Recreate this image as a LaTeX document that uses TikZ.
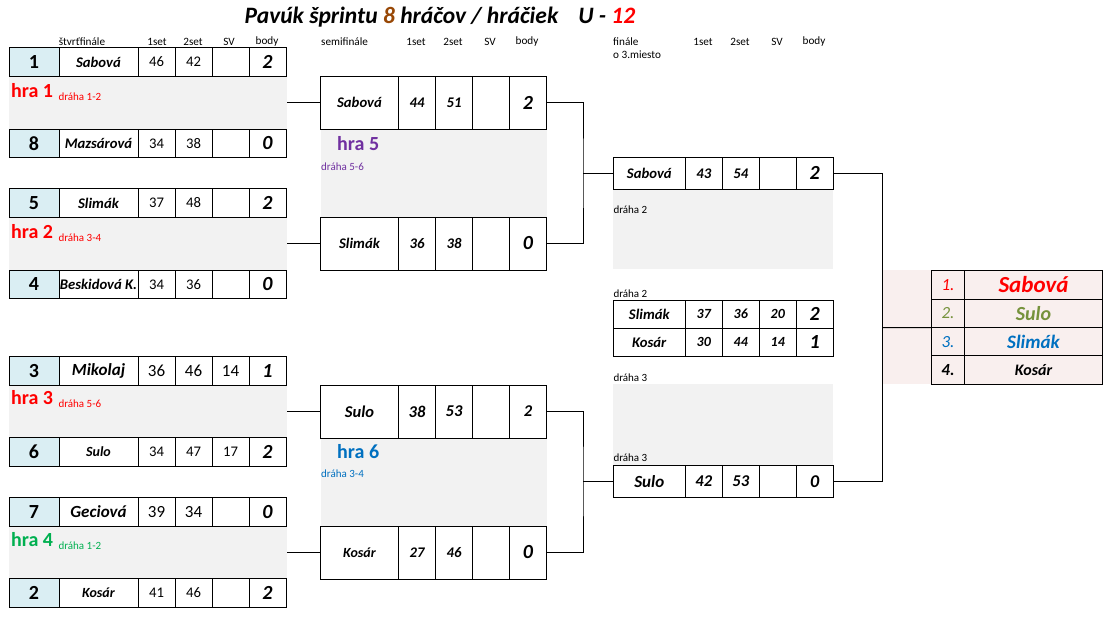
\documentclass[tikz,border=0pt]{standalone}
\usepackage{fontspec}
\setmainfont{Carlito}
\usetikzlibrary{positioning}
\definecolor{seedblue}{HTML}{DAEEF3}
\definecolor{bandgray}{HTML}{F2F2F2}
\definecolor{rankpink}{HTML}{F9EFEE}
\definecolor{hrared}{HTML}{FF0000}
\definecolor{hragreen}{HTML}{00B050}
\definecolor{hrapurple}{HTML}{7030A0}
\definecolor{hrablue}{HTML}{0070C0}
\definecolor{rankolive}{HTML}{76923C}
\definecolor{titlebrown}{HTML}{984806}
\newcommand{\fsz}[1]{\fontsize{#1}{#1}\selectfont}
\newcommand{\bi}{\bfseries\itshape}
\newcommand{\bignum}{\fsz{20}\bfseries\itshape}
% one score row: name, anchor point, row style, name width, player, set1, set2, sv, points
\newcommand{\scorerow}[9]{%
  \node[tcell, #3, minimum width=#4] (#1-name) at #2 {#5};
  \node[tcell, #3] (#1-s1) at (#1-name.east) {#6};
  \node[tcell, #3] (#1-s2) at (#1-s1.east) {#7};
  \node[tcell, #3] (#1-sv) at (#1-s2.east) {#8};
  \node[tcell, #3] (#1-pts) at (#1-sv.east) {#9};}

\begin{document}
\begin{tikzpicture}[x=1pt, y=-1pt,
    tcell/.style={rectangle, draw, line width=1pt, inner sep=0pt, outer sep=0pt,
      anchor=west, minimum width=37, font=\fsz{14.7}},
    qfcell/.style={minimum height=28.5},
    sfcell/.style={minimum height=53},
    fcell/.style={minimum height=32},
    tpcell/.style={minimum height=28.3},
    seedcell/.style={tcell, qfcell, fill=seedblue, minimum width=50, font=\fsz{20}\bfseries},
    band/.style={rectangle, fill=bandgray, inner sep=0pt, outer sep=0pt, anchor=north west},
    hdr/.style={font=\fsz{11.2}, inner sep=0pt},
    hra/.style={font=\fsz{20}\bfseries, inner sep=0pt, anchor=west},
    lane/.style={font=\fsz{11}, inner sep=0pt, anchor=west},
    rknum/.style={tcell, fill=rankpink, minimum height=28.4, minimum width=32.6,
      anchor=north west, font=\fsz{17}\itshape},
    rkname/.style={tcell, fill=rankpink, minimum height=28.4, minimum width=138.4},
    conn/.style={line width=1pt}]

\useasboundingbox (0,0) rectangle (1119,621);

% Title
\node[font=\fsz{23.5}\bi, inner sep=0pt] (title) at (440,17)
  {Pavúk šprintu \textcolor{titlebrown}{8} hráčov / hráčiek\hspace{20pt}U - \textcolor{hrared}{12}};

% Column headers
\node[hdr] (hq) at (82,41.7) {štvrťfinále};
\foreach \cx/\txt in {157/1set, 193/2set, 229/SV, 267/body,
                      416/1set, 453/2set, 490/SV, 527/body,
                      703/1set, 740/2set, 777/SV, 814/body}
  \node[hdr] at (\cx,41.7) {\txt};
\node[hdr, anchor=west] (hs) at (321,41.7) {semifinále};
\node[hdr, anchor=west] (hf) at (613,41.7) {finále};
\node[hdr, anchor=west] (h3) at (613,55) {o 3.miesto};

% Quarterfinal bands
\node[band, minimum width=278, minimum height=53] (qf1-band) at (9,76) {};
\node[band, minimum width=278, minimum height=53] (qf2-band) at (9,217) {};
\node[band, minimum width=278, minimum height=53] (qf3-band) at (9,385) {};
\node[band, minimum width=278, minimum height=53] (qf4-band) at (9,526) {};

% Quarterfinals
\node[seedcell] (qf1a-seed) at (9,62) {1};
\scorerow{qf1a}{(qf1a-seed.east)}{qfcell}{79}{\bi Sabová}{46}{42}{}{\bignum 2}
\node[seedcell] (qf1b-seed) at (9,143.5) {8};
\scorerow{qf1b}{(qf1b-seed.east)}{qfcell}{79}{\bi Mazsárová}{34}{38}{}{\bignum 0}
\node[seedcell] (qf2a-seed) at (9,203) {5};
\scorerow{qf2a}{(qf2a-seed.east)}{qfcell}{79}{\bi Slimák}{37}{48}{}{\bignum 2}
\node[seedcell] (qf2b-seed) at (9,284.5) {4};
\scorerow{qf2b}{(qf2b-seed.east)}{qfcell}{79}{\bi Beskidová K.}{34}{36}{}{\bignum 0}
\node[seedcell] (qf3a-seed) at (9,371) {3};
\scorerow{qf3a}{(qf3a-seed.east)}{qfcell}{79}{\fsz{17}\bi Mikolaj}{\fsz{17}36}{\fsz{17}46}{\fsz{17}14}{\bignum 1}
\node[seedcell] (qf3b-seed) at (9,452) {6};
\scorerow{qf3b}{(qf3b-seed.east)}{qfcell}{79}{\fsz{14}\bi Sulo}{34}{47}{17}{\bignum 2}
\node[seedcell] (qf4a-seed) at (9,512) {7};
\scorerow{qf4a}{(qf4a-seed.east)}{qfcell}{79}{\fsz{17}\bi Geciová}{\fsz{17}39}{\fsz{17}34}{}{\bignum 0}
\node[seedcell] (qf4b-seed) at (9,593) {2};
\scorerow{qf4b}{(qf4b-seed.east)}{qfcell}{79}{\fsz{14}\bi Kosár}{41}{46}{}{\bignum 2}

% Game labels
\node[hra, hrared] (hra1) at (11,91) {hra 1};
\node[lane, hrared, anchor=base west] (lane1) at ([xshift=5pt,yshift=-3pt]hra1.base east) {dráha 1-2};
\node[hra, hrared] (hra2) at (11,232) {hra 2};
\node[lane, hrared, anchor=base west] (lane2) at ([xshift=5pt,yshift=-3pt]hra2.base east) {dráha 3-4};
\node[hra, hrared] (hra3) at (11,398) {hra 3};
\node[lane, hrared, anchor=base west] (lane3) at ([xshift=5pt,yshift=-3pt]hra3.base east) {dráha 5-6};
\node[hra, hragreen] (hra4) at (11,540) {hra 4};
\node[lane, hragreen, anchor=base west] (lane4) at ([xshift=5pt,yshift=-3pt]hra4.base east) {dráha 1-2};

% Semifinal bands
\node[band, minimum width=226, minimum height=88] (sf1-band) at (320.5,129) {};
\node[band, minimum width=226, minimum height=88] (sf2-band) at (320.5,438) {};

% Semifinals
\scorerow{sf1a}{(320.5,102.5)}{sfcell}{78}{\bi Sabová}{\bi 44}{\bi 51}{}{\bignum 2}
\scorerow{sf1b}{(320.5,243.5)}{sfcell}{78}{\bi Slimák}{\bi 36}{\bi 38}{}{\bignum 0}
\scorerow{sf2a}{(320.5,411.5)}{sfcell}{78}{\fsz{16.5}\bi Sulo}{\fsz{16.5}\bi 38}{\fsz{16.5}\bi 53}{}{\fsz{16.5}\bi 2}
\scorerow{sf2b}{(320.5,552.5)}{sfcell}{78}{\fsz{14}\bi Kosár}{\bi 27}{\bi 46}{}{\bignum 0}

\node[hra, hrapurple] (hra5) at (337,144) {hra 5};
\node[lane, hrapurple] (lane5) at (321,166.5) {dráha 5-6};
\node[hra, hrablue] (hra6) at (337,452) {hra 6};
\node[lane, hrablue] (lane6) at (321,474) {dráha 3-4};

% Final and match for 3rd place
\node[band, minimum width=220, minimum height=80] (f-band) at (613.3,189.3) {};
\node[band, minimum width=220, minimum height=81] (tp-band) at (613.3,384) {};
\scorerow{fa}{(613.3,173.3)}{fcell}{72}{\bi Sabová}{\bi 43}{\bi 54}{}{\bignum 2}
\node[lane] (lanef) at (613.3,210) {dráha 2};
\node[lane] (lanetp) at (613.3,293.5) {dráha 2};
\scorerow{tp1}{(613.3,314.2)}{tpcell}{72}{\bi Slimák}{\fsz{14}\bi 37}{\fsz{14}\bi 36}{\fsz{14}\bi 20}{\bignum 2}
\scorerow{tp2}{(613.3,342.4)}{tpcell}{72}{\bi Kosár}{\fsz{14}\bi 30}{\fsz{14}\bi 44}{\fsz{14}\bi 14}{\bignum 1}
\node[lane] (lane3a) at (613.3,377.5) {dráha 3};
\node[lane] (lane3b) at (613.3,458) {dráha 3};
\scorerow{fb}{(613.3,481.2)}{fcell}{72}{\fsz{17}\bi Sulo}{\fsz{16.5}\bi 42}{\fsz{16.5}\bi 53}{}{\fsz{18}\bi 0}

% Ranking
\node[band, fill=rankpink, minimum width=220.7, minimum height=114] (rk-band) at (882,270) {};
\node[rknum, text=hrared] (rk1-num) at (931.7,270.7) {1.};
\node[rkname, text=hrared, font=\fsz{23}\bi] (rk1-name) at (rk1-num.east) {Sabová};
\node[rknum, text=rankolive] (rk2-num) at (rk1-num.south west) {2.};
\node[rkname, text=rankolive, font=\fsz{20}\bi] (rk2-name) at (rk2-num.east) {Sulo};
\node[rknum, text=hrablue] (rk3-num) at (rk2-num.south west) {3.};
\node[rkname, text=hrablue, font=\fsz{19}\bi] (rk3-name) at (rk3-num.east) {Slimák};
\node[rknum, font=\fsz{17}\bi] (rk4-num) at (rk3-num.south west) {4.};
\node[rkname, font=\fsz{16}\bi] (rk4-name) at (rk4-num.east) {Kosár};

% Connectors quarterfinal -> semifinal
\draw[conn] (qf1-band.east) -- (sf1a-name.west);
\draw[conn] (qf2-band.east) -- (sf1b-name.west);
\draw[conn] (qf3-band.east) -- (sf2a-name.west);
\draw[conn] (qf4-band.east) -- (sf2b-name.west);

% Connectors semifinal -> final
\coordinate (j1) at (583,173.3);
\draw[conn] (sf1a-pts.east) -| (j1) |- (sf1b-pts.east);
\draw[conn] (j1) -- (fa-name.west);
\coordinate (j2) at (583,481.2);
\draw[conn] (sf2a-pts.east) -| (j2) |- (sf2b-pts.east);
\draw[conn] (j2) -- (fb-name.west);

% Connectors final -> ranking
\coordinate (j3) at (882,327.5);
\draw[conn] (fa-pts.east) -| (j3) |- (fb-pts.east);
\draw[conn] (j3) -- (rk2-num.south west);

\end{tikzpicture}
\end{document}
